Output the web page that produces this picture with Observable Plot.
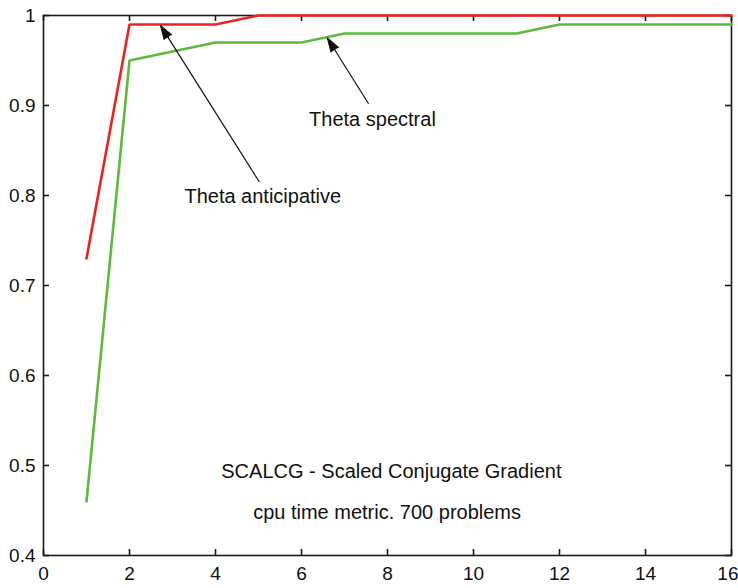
<!DOCTYPE html>
<html>
<head>
<meta charset="utf-8">
<script src="https://cdn.jsdelivr.net/npm/d3@7"></script>
<script src="https://cdn.jsdelivr.net/npm/@observablehq/plot@0.6"></script>
<style>
  html, body { margin: 0; padding: 0; background: #fff; }
  #chart svg { display: block; }
</style>
</head>
<body>
<div id="chart"></div>
<script>
// ---- data ----
const xs = [1, 2, 3, 4, 5, 6, 7, 8, 9, 10, 11, 12, 13, 14, 15, 16];
const anticipative = [0.73, 0.99, 0.99, 0.99, 1.0, 1.0, 1.0, 1.0, 1.0, 1.0, 1.0, 1.0, 1.0, 1.0, 1.0, 1.0];
const spectral =     [0.46, 0.95, 0.96, 0.97, 0.97, 0.97, 0.98, 0.98, 0.98, 0.98, 0.98, 0.99, 0.99, 0.99, 0.99, 0.99];
const xTicks = [0, 2, 4, 6, 8, 10, 12, 14, 16];
const yTicks = [0.4, 0.5, 0.6, 0.7, 0.8, 0.9, 1];
const yTickLabels = ["0.4", "0.5", "0.6", "0.7", "0.8", "0.9", "1"];
// annotation arrows: text position, tail (x1,y1), tip (x2,y2)
const annLabels = ["Theta spectral", "Theta anticipative"];
const annTextX = [7.65, 5.10];
const annTextY = [0.884, 0.799];
const annX1 = [7.56, 5.02];
const annY1 = [0.902, 0.815];
const annX2 = [6.60, 2.72];
const annY2 = [0.975, 0.989];
const notes = ["SCALCG - Scaled Conjugate Gradient", "cpu time metric. 700 problems"];
const noteX = [8.09, 7.99];
const noteY = [0.493, 0.448];

// ---- tables ----
const lineA = xs.map((x, i) => ({x, y: anticipative[i]}));
const lineS = xs.map((x, i) => ({x, y: spectral[i]}));

const W = 738, H = 588;
const mL = 43, mR = 7, mT = 15, mB = 33;
const innerW = W - mL - mR, innerH = H - mT - mB;
const kx = innerW / (16 - 0), ky = innerH / (1 - 0.4);
const tick = 6;

const arrows = annLabels.map((label, i) => ({
  label, tx: annTextX[i], ty: annTextY[i],
  x1: annX1[i], y1: annY1[i], x2: annX2[i], y2: annY2[i],
  rot: Math.atan2((annX2[i] - annX1[i]) * kx, (annY2[i] - annY1[i]) * ky) * 180 / Math.PI
}));
const noteRows = notes.map((t, i) => ({t, x: noteX[i], y: noteY[i]}));

const font = "'Liberation Sans', Arial, sans-serif";
const frameColor = "#1a1a1a";

const chart = Plot.plot({
  width: W, height: H,
  marginLeft: mL, marginRight: mR, marginTop: mT, marginBottom: mB,
  style: {fontFamily: font, fontSize: "19px", background: "#fff", color: "#111"},
  x: {domain: [0, 16]},
  y: {domain: [0.4, 1]},
  marks: [
    Plot.axisX(xTicks.slice(0, -1), {tickSize: 0, tickPadding: 11, label: null, fontSize: 19, tickFormat: d => String(d)}),
    Plot.axisX(xTicks.slice(-1), {tickSize: 0, tickPadding: 11, label: null, fontSize: 19, textAnchor: "end", dx: 7, tickFormat: d => String(d)}),
    Plot.axisY(yTicks, {tickSize: 0, tickPadding: 8, label: null, fontSize: 19, tickFormat: (d, i) => yTickLabels[i]}),
    Plot.frame({stroke: frameColor, strokeWidth: 1.6}),
    // inward ticks, MATLAB style, on all four sides
    Plot.tickX(xTicks, {x: d => d, insetTop: innerH - tick, stroke: frameColor, strokeWidth: 1.6}),
    Plot.tickX(xTicks, {x: d => d, insetBottom: innerH - tick, stroke: frameColor, strokeWidth: 1.6}),
    Plot.tickY(yTicks, {y: d => d, insetRight: innerW - tick, stroke: frameColor, strokeWidth: 1.6}),
    Plot.tickY(yTicks, {y: d => d, insetLeft: innerW - tick, stroke: frameColor, strokeWidth: 1.6}),
    // series
    Plot.line(lineS, {x: "x", y: "y", stroke: "#5cbb3c", strokeWidth: 2.6, strokeLinejoin: "miter"}),
    Plot.line(lineA, {x: "x", y: "y", stroke: "#f02020", strokeWidth: 2.6, strokeLinejoin: "miter"}),
    // annotation arrows
    Plot.link(arrows, {x1: "x1", y1: "y1", x2: "x2", y2: "y2", stroke: "#111", strokeWidth: 1.2}),
    Plot.vector(arrows, {x: "x2", y: "y2", rotate: "rot", length: 14, anchor: "end", shape: "spike", r: 4.5, fill: "#111", stroke: "#111", strokeWidth: 1}),
    Plot.text(arrows, {x: "tx", y: "ty", text: "label", fontSize: 20, fill: "#111", textAnchor: "middle"}),
    Plot.text(noteRows, {x: "x", y: "y", text: "t", fontSize: 20, fill: "#111", textAnchor: "middle"})
  ]
});
document.getElementById("chart").appendChild(chart);
</script>
</body>
</html>
